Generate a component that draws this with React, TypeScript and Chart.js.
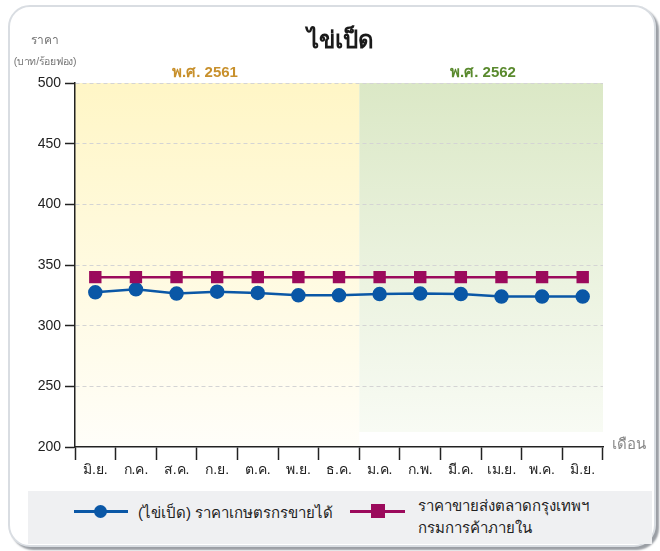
import React, { useEffect, useRef } from "react";
import { Chart, registerables } from "chart.js";

Chart.register(...registerables);

const months = ["มิ.ย.", "ก.ค.", "ส.ค.", "ก.ย.", "ต.ค.", "พ.ย.", "ธ.ค.", "ม.ค.", "ก.พ.", "มี.ค.", "เม.ย.", "พ.ค.", "มิ.ย."];
const farmPrice = [327.5, 330, 326.5, 328, 327, 325, 325, 326, 326.5, 326, 324, 324, 324];
const wholesalePrice = [340, 340, 340, 340, 340, 340, 340, 340, 340, 340, 340, 340, 340];
const yearLabels = ["พ.ศ. 2561", "พ.ศ. 2562"];
const farmLabel = "(ไข่เป็ด) ราคาเกษตรกรขายได้";
const wholesaleLabel = ["ราคาขายส่งตลาดกรุงเทพฯ", "กรมการค้าภายใน"];

const FONT = "'Liberation Sans', 'Noto Sans', 'DejaVu Sans', sans-serif";

const bandsPlugin = {
  id: "bands",
  beforeDraw(chart: any) {
    const { ctx, chartArea, scales } = chart;
    const x = scales.x;
    const split = x.getPixelForValue(6.5);
    ctx.save();
    const g1 = ctx.createLinearGradient(0, chartArea.top, 0, chartArea.bottom);
    g1.addColorStop(0, "#fff6c6");
    g1.addColorStop(1, "#fffef9");
    ctx.fillStyle = g1;
    ctx.fillRect(chartArea.left, chartArea.top, split - chartArea.left, chartArea.bottom - chartArea.top);
    const gBottom = chartArea.bottom - 15;
    const g2 = ctx.createLinearGradient(0, chartArea.top, 0, gBottom);
    g2.addColorStop(0, "#dbe8c6");
    g2.addColorStop(1, "#f8fbf4");
    ctx.fillStyle = g2;
    ctx.fillRect(split, chartArea.top, chartArea.right - split, gBottom - chartArea.top);
    ctx.restore();
  },
};

export default function App() {
  const ref = useRef<HTMLCanvasElement>(null);
  useEffect(() => {
    if (!ref.current) return;
    const chart = new Chart(ref.current, {
      type: "line",
      data: {
        labels: months,
        datasets: [
          {
            label: wholesaleLabel.join(" "),
            data: wholesalePrice,
            borderColor: "#9b0a5c",
            backgroundColor: "#9b0a5c",
            borderWidth: 2.5,
            pointStyle: "rect",
            pointRadius: 7,
            pointHoverRadius: 7,
            tension: 0,
          },
          {
            label: farmLabel,
            data: farmPrice,
            borderColor: "#0a57a6",
            backgroundColor: "#0a57a6",
            borderWidth: 2.5,
            pointStyle: "circle",
            pointRadius: 6,
            pointHoverRadius: 6,
            tension: 0,
          },
        ],
      },
      plugins: [bandsPlugin as any],
      options: {
        animation: false,
        responsive: false,
        maintainAspectRatio: false,
        layout: { padding: { left: 0, top: 83, right: 57, bottom: 0 } },
        plugins: {
          legend: { display: false },
          tooltip: { enabled: false },
          title: { display: false },
        },
        scales: {
          x: {
            offset: true,
            afterFit: (s: any) => {
              s.height = 104;
            },
            grid: {
              offset: true,
              drawOnChartArea: false,
              drawTicks: true,
              tickLength: 13,
              tickColor: "#222",
              tickWidth: 1.5,
              color: "#222",
            },
            border: { color: "#222", width: 1.5 },
            ticks: {
              color: "#222",
              font: { family: FONT, size: 14 },
              padding: 2,
              autoSkip: false,
              maxRotation: 0,
            },
          },
          y: {
            min: 200,
            max: 500,
            afterFit: (s: any) => {
              s.width = 75;
            },
            ticks: {
              stepSize: 50,
              color: "#222",
              font: { family: FONT, size: 14 },
              padding: 4,
            },
            grid: {
              color: (c: any) => (c.tick && c.tick.value === 200 ? "rgba(0,0,0,0)" : "#d4d4d4"),
              tickColor: "#222",
              tickBorderDash: [],
              tickLength: 10,
              tickWidth: 1.5,
              lineWidth: 1,
            },
            border: { color: "#222", width: 1.5, dash: [4, 3] },
          },
        },
      },
    });
    return () => chart.destroy();
  }, []);

  return (
    <div style={{ position: "fixed", left: 0, top: 0, width: 660, height: 551, background: "#fff", overflow: "hidden", fontFamily: FONT }}>
      <div
        style={{
          position: "absolute",
          left: 8,
          top: 5,
          width: 644,
          height: 538,
          borderRadius: 22,
          border: "2px solid #d9dde2",
          boxShadow: "3px 3px 2px #9a9ea4",
          background: "#fff",
        }}
      />
      <canvas ref={ref} width={660} height={551} style={{ position: "absolute", left: 0, top: 0 }} />
      <div style={{ position: "absolute", left: 0, width: 680, top: 20, textAlign: "center", fontSize: 24, fontWeight: "bold", color: "#1a1a1a" }}>ไข่เป็ด</div>
      <div style={{ position: "absolute", left: 45, top: 30, transform: "translateX(-50%)", textAlign: "center", fontSize: 12, color: "#777", whiteSpace: "nowrap", lineHeight: "20px" }}>ราคา</div>
      <div style={{ position: "absolute", left: 45, top: 52, transform: "translateX(-50%)", textAlign: "center", fontSize: 10.5, color: "#777", whiteSpace: "nowrap", lineHeight: "18px", letterSpacing: -0.3 }}>(บาท/ร้อยฟอง)</div>
      <div style={{ position: "absolute", left: 140, width: 130, top: 60, textAlign: "center", fontSize: 15, fontWeight: "bold", color: "#c8902c" }}>{yearLabels[0]}</div>
      <div style={{ position: "absolute", left: 418, width: 130, top: 60, textAlign: "center", fontSize: 15, fontWeight: "bold", color: "#5a8a2e" }}>{yearLabels[1]}</div>
      <div style={{ position: "absolute", left: 612, top: 432, fontSize: 15, color: "#888" }}>เดือน</div>
      <div style={{ position: "absolute", left: 28, top: 491, width: 624, height: 53, background: "#eff0f2" }}>
        <div style={{ position: "absolute", left: 46, top: 19, width: 54, height: 3, background: "#0a57a6" }} />
        <div style={{ position: "absolute", left: 66, top: 14, width: 13, height: 13, borderRadius: "50%", background: "#0a57a6" }} />
        <div style={{ position: "absolute", left: 110, top: 10, fontSize: 15, color: "#222" }}>{farmLabel}</div>
        <div style={{ position: "absolute", left: 322, top: 19, width: 55, height: 3, background: "#9b0a5c" }} />
        <div style={{ position: "absolute", left: 343, top: 13, width: 14, height: 14, background: "#9b0a5c" }} />
        <div style={{ position: "absolute", left: 390, top: 4, fontSize: 15, color: "#222", lineHeight: "22px" }}>
          {wholesaleLabel[0]}
          <br />
          {wholesaleLabel[1]}
        </div>
      </div>
    </div>
  );
}
